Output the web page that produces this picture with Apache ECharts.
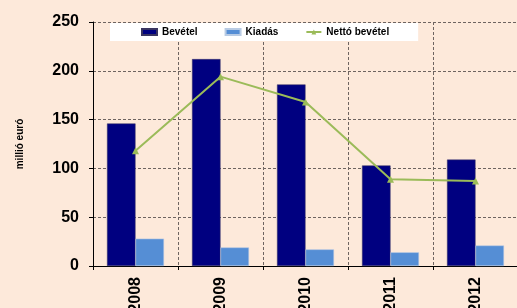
<!DOCTYPE html>
<html>
<head>
<meta charset="utf-8">
<script src="https://cdn.jsdelivr.net/npm/echarts@6/dist/echarts.min.js"></script>
<style>
    html, body { margin: 0; padding: 0; background: #fde9da; }
    #chart { width: 517px; height: 308px; }
</style>
</head>
<body>
<div id="chart"></div>
<script>
    // adatok
    var years = ['2008', '2009', '2010', '2011', '2012'];
    var bevetel = [146, 212, 186, 103, 109];
    var kiadas = [28, 19, 17, 14, 21];
    var netto = [118, 194, 168, 89, 87];

    var font = 'Liberation Sans, Arial, sans-serif';
    var gridLine = {show: true, lineStyle: {color: '#6e6460', type: [3, 2], width: 1}};

    var myChart = echarts.init(document.getElementById('chart'));
    var option = {
        backgroundColor: '#fde9da',
        animation: false,
        textStyle: {fontFamily: font},
        legend: {
            left: 110,
            top: 23,
            backgroundColor: '#ffffff',
            padding: [4, 29, 4, 31],
            itemGap: 27,
            itemWidth: 15,
            itemHeight: 6,
            textStyle: {fontSize: 10, fontWeight: 'bold', color: '#000', fontFamily: font},
            data: [
                {name: 'Bevétel', icon: 'rect'},
                {name: 'Kiadás', icon: 'rect'},
                'Nettó bevétel'
            ]
        },
        grid: {left: 93, top: 22, width: 425, bottom: 42, containLabel: false, outerBoundsMode: 'none'},
        xAxis: {
            type: 'category',
            data: years,
            axisLine: {lineStyle: {color: '#000', width: 1}},
            axisTick: {show: true, length: 4, lineStyle: {color: '#000'}},
            axisLabel: {rotate: 90, margin: 11, fontSize: 16, fontWeight: 'bold', color: '#000', fontFamily: font},
            splitLine: gridLine
        },
        yAxis: {
            type: 'value',
            min: 0,
            max: 250,
            interval: 50,
            name: 'millió euró',
            nameLocation: 'middle',
            nameGap: 68,
            nameTextStyle: {fontSize: 10, fontWeight: 'bold', color: '#000', fontFamily: font},
            axisLine: {show: true, lineStyle: {color: '#000', width: 1}},
            axisTick: {show: true, length: 4, lineStyle: {color: '#000'}},
            axisLabel: {margin: 14, fontSize: 16, fontWeight: 'bold', color: '#000', fontFamily: font},
            splitLine: gridLine
        },
        series: [
            {
                name: 'Bevétel',
                type: 'bar',
                data: bevetel,
                barGap: '0%',
                barCategoryGap: '33%',
                itemStyle: {color: '#000080', borderColor: '#3a3560', borderWidth: 0.5}
            },
            {
                name: 'Kiadás',
                type: 'bar',
                data: kiadas,
                itemStyle: {color: '#558ed5', borderColor: '#b8cbe4', borderWidth: 0.5}
            },
            {
                name: 'Nettó bevétel',
                type: 'line',
                data: netto,
                symbol: 'triangle',
                symbolSize: 7,
                lineStyle: {color: '#9bbb59', width: 2},
                itemStyle: {color: '#9bbb59'},
                z: 5
            }
        ]
    };
    myChart.setOption(option);
</script>
</body>
</html>
